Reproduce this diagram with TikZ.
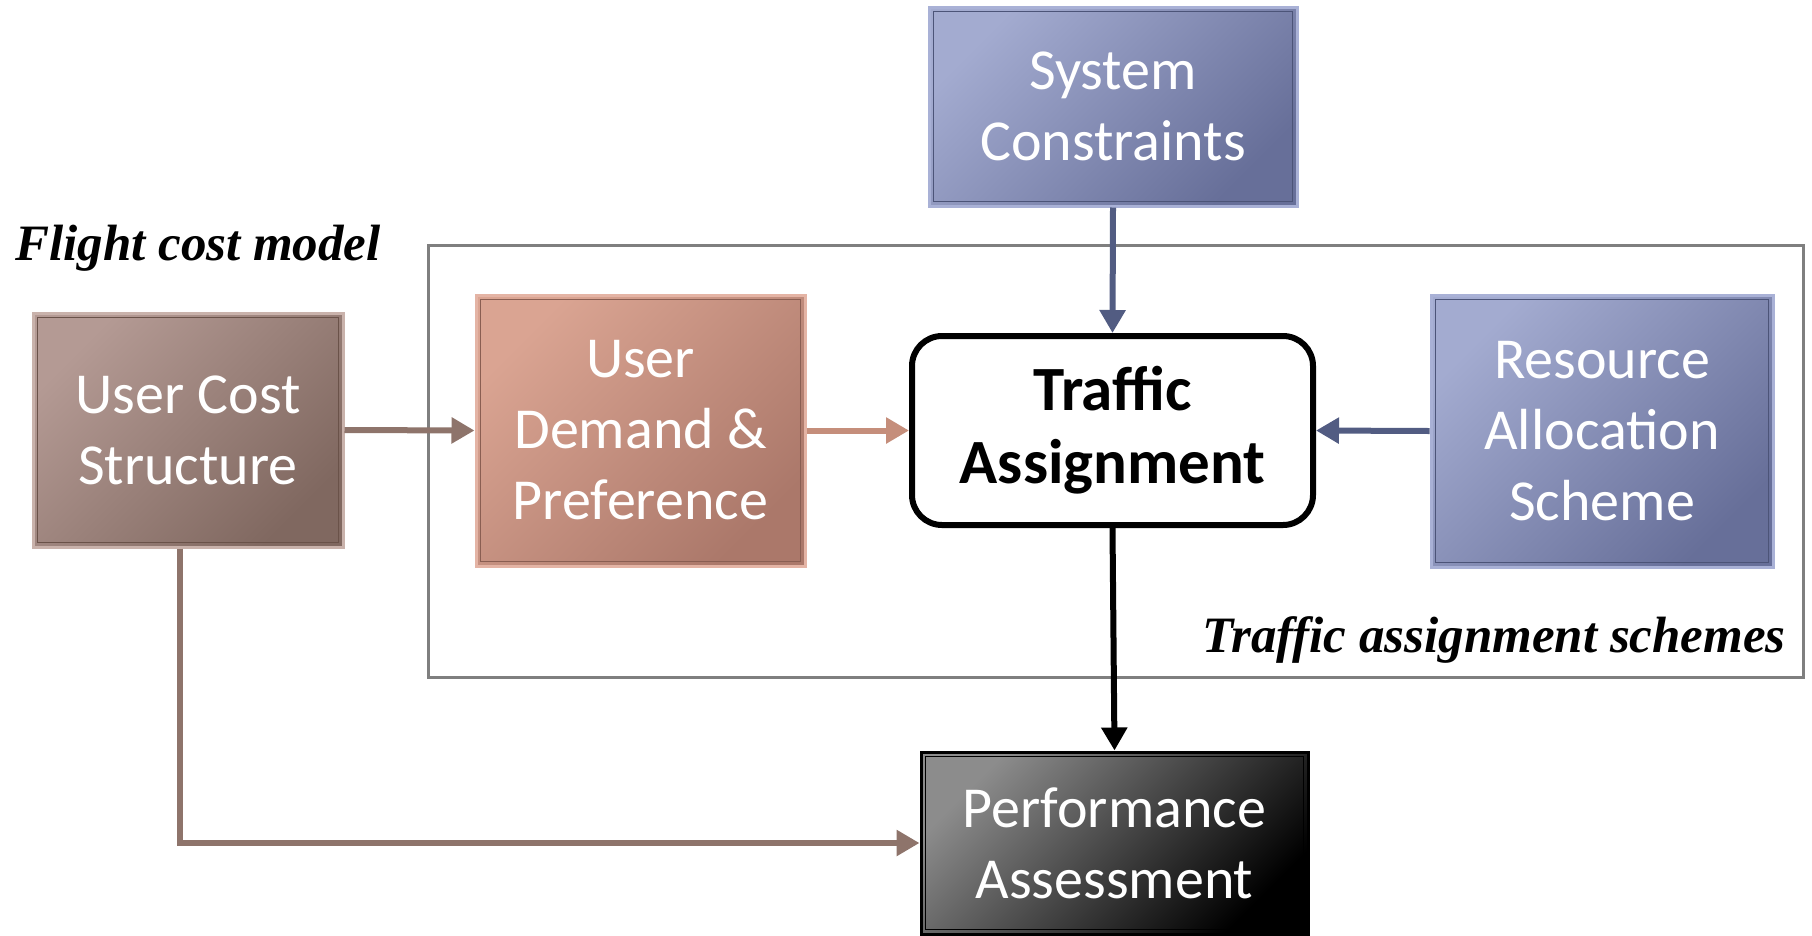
\documentclass[tikz,border=0pt]{standalone}
\usepackage{fontspec}
\setmainfont{Carlito}
\newfontfamily\capserif{Liberation Serif}
\usetikzlibrary{arrows.meta}
\definecolor{ucsL}{HTML}{B49A94}
\definecolor{ucsD}{HTML}{806860}
\definecolor{ucsO}{HTML}{C9B2AB}
\definecolor{ucsI}{HTML}{6A5249}
\definecolor{ucsA}{HTML}{8E746B}
\definecolor{udpL}{HTML}{DAA492}
\definecolor{udpD}{HTML}{AB786A}
\definecolor{udpO}{HTML}{E4B4A5}
\definecolor{udpI}{HTML}{8A5E52}
\definecolor{udpA}{HTML}{C58E7B}
\definecolor{bluL}{HTML}{A3ABD0}
\definecolor{bluD}{HTML}{676F99}
\definecolor{bluO}{HTML}{A9B1D6}
\definecolor{bluI}{HTML}{4C5478}
\definecolor{bluA}{HTML}{525C82}
\definecolor{paL}{HTML}{8C8C8C}
\definecolor{frameG}{HTML}{7F7F7F}
\tikzset{
  box/.style={rectangle, inner sep=0pt, text=white, align=center,
    font=\fontsize{58}{71}\selectfont, line width=3pt},
  shadebox/.style n args={2}{top color=#1, bottom color=#2, shading angle=45},
  innerframe/.style={line width=1.5pt},
  conn/.style={line width=6pt, -{Triangle[length=23pt,width=25pt]}},
  caption/.style={font=\capserif\bfseries\itshape\fontsize{51}{60}\selectfont, inner sep=0pt}
}
\begin{document}
\begin{tikzpicture}[x=1pt,y=-1pt]
\useasboundingbox (0,0) rectangle (1812,935);
% frame of traffic assignment schemes
\draw[frameG, line width=3pt] (428,245) rectangle (1803,677);
% nodes
\node[box, draw=ucsO, shadebox={ucsL}{ucsD}, minimum width=310pt, minimum height=234pt] (ucs) at (188,430) {User Cost\\Structure};
\node[box, draw=udpO, shadebox={udpL}{udpD}, minimum width=329pt, minimum height=271pt] (udp) at (640.5,430.5) {User\\Demand \&\\Preference};
\node[box, draw=bluO, shadebox={bluL}{bluD}, minimum width=368pt, minimum height=199pt] (sc) at (1113,106.5) {System\\Constraints};
\node[box, draw=bluO, shadebox={bluL}{bluD}, minimum width=342pt, minimum height=272pt] (ras) at (1602,431) {Resource\\Allocation\\Scheme};
\node[box, draw=black, fill=white, text=black, line width=6pt, rounded corners=30pt, minimum width=401pt, minimum height=189pt, font=\bfseries\fontsize{63}{73}\selectfont] (ta) at (1112.5,430.5) {Traffic\\Assignment};
\node[box, draw=black, shadebox={paL}{black}, minimum width=387pt, minimum height=182pt] (pa) at (1114.5,843) {Performance\\Assessment};
% inner frames
\foreach \n/\c in {ucs/ucsI, udp/udpI, sc/bluI, ras/bluI, pa/black}{
  \draw[\c, innerframe] ([shift={(6,6)}]\n.north west) rectangle ([shift={(-6,-6)}]\n.south east);
}
% captions
\node[caption, anchor=base west] (fcm) at (15,260) {Flight cost model};
\node[caption, anchor=base east] (tas) at (1786,652) {Traffic assignment schemes};
% connectors
\coordinate (bend) at (180,844);
\draw[conn, ucsA] (ucs.east) -- (udp.west);
\draw[conn, udpA] (udp.east) -- (ta.west);
\draw[conn, bluA] (sc.south) -- (ta.north);
\draw[conn, bluA] (ras.west) -- (ta.east);
\draw[conn, black] (ta.south) -- (pa.north);
\draw[conn, ucsA] (ucs.south -| bend) |- (pa.west);
\end{tikzpicture}
\end{document}
